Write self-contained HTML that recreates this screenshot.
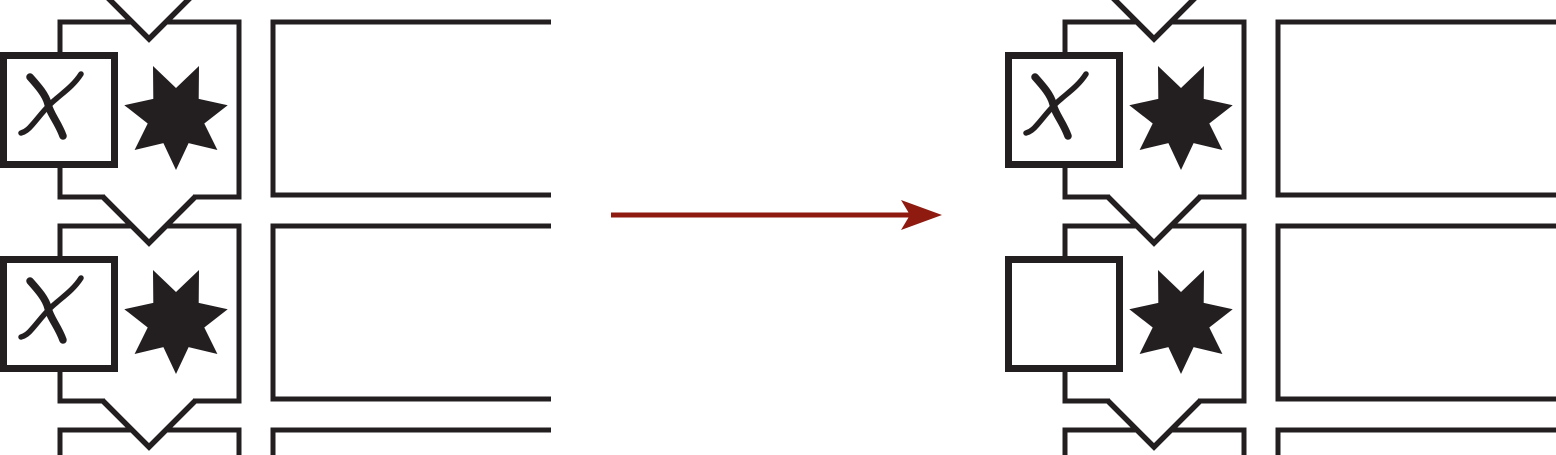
<!DOCTYPE html>
<html><head><style>html,body{margin:0;padding:0;background:#fff;overflow:hidden;width:1556px;height:455px}svg{display:block}</style></head>
<body>
<svg width="1556" height="455" viewBox="0 0 1556 455" xmlns="http://www.w3.org/2000/svg">
<defs>
<g id="frame">
  <path d="M105,197 L60,197 L60,22 L131,22 M167,22 L239,22 L239,197 L193,197" fill="none" stroke="#231f20" stroke-width="5"/>
</g>
<g id="vee">
  <path d="M103,197 L149,243 L195,197" fill="none" stroke="#231f20" stroke-width="5.5"/>
</g>
<g id="star">
  <polygon fill="#231f20" points="176,170 163.4,143.1 134.6,150 147.7,123.5 124.3,105.2 153.3,98.9 153,66 176,88 199,66 198.7,98.9 227.7,105.2 204.3,123.5 217.4,150 188.6,143.1"/>
</g>
<g id="box">
  <rect x="3.5" y="55.5" width="111" height="109" fill="#fff" stroke="#231f20" stroke-width="7"/>
</g>
<g id="chi">
  <path d="M30,77 C38,86 46,95 48,104 C50,114 58,122 63,136" fill="none" stroke="#231f20" stroke-width="7.5" stroke-linecap="round"/>
  <path d="M81,74 C74,85 64,92 56,99 C46,107 40,116 32,125 C28,130 25,132 21,133" fill="none" stroke="#231f20" stroke-width="5.5" stroke-linecap="round"/>
</g>
<g id="rects">
  <path d="M551,22 L273,22 L273,195 L551,195" fill="none" stroke="#231f20" stroke-width="5"/>
</g>
</defs>

<g>
  <use href="#frame" y="0"/><use href="#frame" y="204"/><use href="#frame" y="408"/>
  <use href="#vee" y="-204"/><use href="#vee" y="0"/><use href="#vee" y="204"/>
  <use href="#box" y="0"/><use href="#chi" y="0"/><use href="#star" y="0"/>
  <use href="#box" y="204"/><use href="#chi" y="204"/><use href="#star" y="204"/>
  <use href="#rects" y="0"/><use href="#rects" y="204"/><use href="#rects" y="408"/>
</g>

<g transform="translate(1005,0)">
  <use href="#frame" y="0"/><use href="#frame" y="204"/><use href="#frame" y="408"/>
  <use href="#vee" y="-204"/><use href="#vee" y="0"/><use href="#vee" y="204"/>
  <use href="#box" y="0"/><use href="#chi" y="0"/><use href="#star" y="0"/>
  <use href="#box" y="204"/><use href="#star" y="204"/>
  <use href="#rects" y="0"/><use href="#rects" y="204"/><use href="#rects" y="408"/>
</g>

<line x1="611" y1="215" x2="912" y2="215" stroke="#8f1a10" stroke-width="5"/>
<polygon points="942,215 901,200 910,215 901,230" fill="#8f1a10"/>
</svg>
</body></html>
